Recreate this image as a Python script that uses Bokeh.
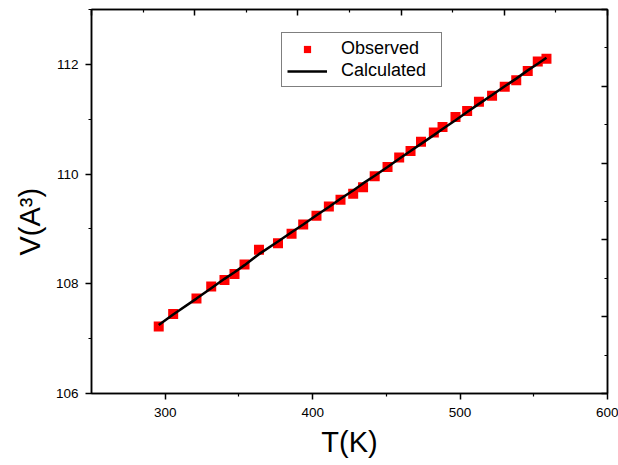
import math
from bokeh.plotting import figure
from bokeh.models import (Range1d, LinearAxis, FixedTicker, Legend, LegendItem, Title)
from bokeh.embed import file_html
from bokeh.resources import INLINE

# ---- data ----
temperature = [295.6, 305.4, 321.2, 331.2, 340.2, 347.0, 353.8, 363.6, 376.5, 385.7,
               393.6, 402.6, 411.0, 418.9, 427.5, 434.2, 442.1, 450.8, 458.7, 466.4,
               473.5, 482.2, 488.1, 496.9, 504.8, 512.8, 521.7, 530.3, 538.1, 545.9,
               552.7, 558.6]
volume_observed = [107.22, 107.45, 107.73, 107.95, 108.07, 108.18, 108.35, 108.62, 108.74, 108.91,
                   109.08, 109.24, 109.41, 109.53, 109.64, 109.76, 109.96, 110.13, 110.30, 110.42,
                   110.59, 110.76, 110.86, 111.04, 111.15, 111.32, 111.43, 111.59, 111.71, 111.88,
                   112.05, 112.10]
volume_calculated = [107.25, 107.44, 107.73, 107.92, 108.09, 108.21, 108.34, 108.54, 108.77, 108.94,
                     109.08, 109.25, 109.40, 109.55, 109.70, 109.83, 109.97, 110.13, 110.28, 110.42,
                     110.55, 110.71, 110.82, 110.98, 111.13, 111.28, 111.44, 111.60, 111.74, 111.89,
                     112.01, 112.12]
x_major_ticks = [300, 400, 500, 600]
x_minor_ticks = [350, 450, 550]
y_major_ticks = [106, 108, 110, 112]
y_minor_ticks = [107, 109, 111, 113]
x_label = "T(K)"
y_label = "V(A\u00b3)"
series_names = ["Observed", "Calculated"]

FONT = "Liberation Sans"

p = figure(width=618, height=465, output_backend="svg", toolbar_location=None,
           x_range=Range1d(250, 600), y_range=Range1d(106, 113),
           min_border_left=91, min_border_right=11, min_border_top=9, min_border_bottom=72,
           background_fill_color="white", border_fill_color="white")
p.xgrid.visible = False
p.ygrid.visible = False
p.outline_line_color = "black"
p.outline_line_width = 1.5

obs = p.scatter(temperature, volume_observed, marker="square", size=10,
                fill_color="#ff0000", line_color=None)
calc = p.line(temperature, volume_calculated, line_color="black", line_width=2.5)

# bottom axis
xa = p.xaxis[0]
xa.ticker = FixedTicker(ticks=x_major_ticks, minor_ticks=x_minor_ticks)
xa.axis_label = x_label
xa.axis_label_text_font = FONT
xa.axis_label_text_font_size = "29px"
xa.axis_label_text_font_style = "normal"
xa.axis_label_text_color = "black"
xa.axis_label_standoff = 6
xa.major_label_text_font = FONT
xa.major_label_text_font_size = "13.5px"
xa.major_label_text_color = "black"
xa.major_label_standoff = 8
xa.major_tick_out = 6
xa.major_tick_in = 0
xa.minor_tick_out = 3
xa.minor_tick_in = 0
xa.axis_line_width = 1.5
xa.major_tick_line_width = 1.5
xa.minor_tick_line_width = 1.2

# left axis
ya = p.yaxis[0]
ya.ticker = FixedTicker(ticks=y_major_ticks, minor_ticks=y_minor_ticks)
ya.major_label_text_font = FONT
ya.major_label_text_font_size = "13.5px"
ya.major_label_text_color = "black"
ya.major_label_standoff = 7
ya.major_tick_out = 6
ya.major_tick_in = 0
ya.minor_tick_out = 3
ya.minor_tick_in = 0
ya.axis_line_width = 1.5
ya.major_tick_line_width = 1.5
ya.minor_tick_line_width = 1.2

# mirrored top / right axes with inward ticks, no labels
p.extra_x_ranges = {"top": Range1d(0, 5)}
p.extra_y_ranges = {"right": Range1d(0, 5)}
mirror_major = [0, 1, 2, 3, 4, 5]
mirror_minor = [0.5, 1.5, 2.5, 3.5, 4.5]
top = LinearAxis(x_range_name="top", ticker=FixedTicker(ticks=mirror_major, minor_ticks=mirror_minor))
right = LinearAxis(y_range_name="right", ticker=FixedTicker(ticks=mirror_major, minor_ticks=mirror_minor))
for ax in (top, right):
    ax.major_label_overrides = {t: "" for t in mirror_major}
    ax.major_label_standoff = 0
    ax.major_tick_in = 6
    ax.major_tick_out = 0
    ax.minor_tick_in = 3
    ax.minor_tick_out = 0
    ax.axis_line_width = 1.5
    ax.major_tick_line_width = 1.5
    ax.minor_tick_line_width = 1.2
p.add_layout(top, "above")
p.add_layout(right, "right")

# y axis title, placed below the frame centre like the reference
ytitle = Title(text=y_label, align="left", offset=138, standoff=13,
               text_font=FONT, text_font_size="29px", text_font_style="normal",
               text_color="black")
p.add_layout(ytitle, "left")

legend = Legend(items=[LegendItem(label=series_names[0], renderers=[obs]),
                       LegendItem(label=series_names[1], renderers=[calc])],
                location=(190, 306), orientation="vertical",
                label_text_font=FONT, label_text_font_size="18px", label_text_color="black",
                glyph_width=40, glyph_height=18, label_height=18, label_width=95,
                label_standoff=14, spacing=1, padding=5, margin=0,
                border_line_color="black", border_line_width=1,
                background_fill_color="white", background_fill_alpha=1)
p.add_layout(legend, "center")

open("out.html", "w").write(file_html(p, INLINE))
